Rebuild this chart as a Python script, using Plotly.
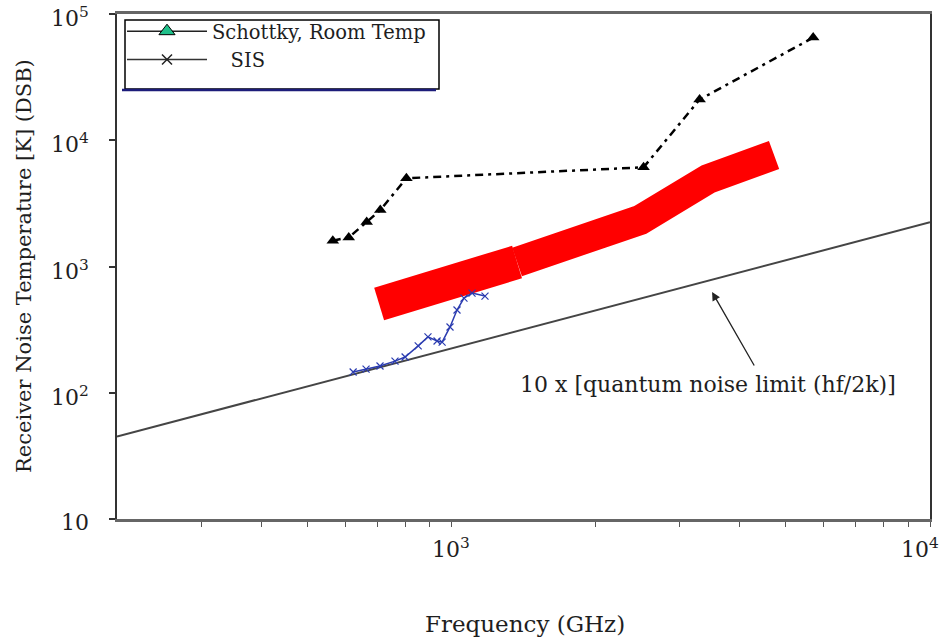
import math
import plotly.graph_objects as go

# Schottky mixers at room temperature
freq_schottky = [565, 610, 665, 710, 805, 2520, 3300, 5700]
temp_schottky = [1600, 1700, 2250, 2800, 5000, 6100, 21000, 65000]

# SIS mixers
freq_sis = [623, 663, 709, 762, 800, 852, 893, 933, 956, 993, 1027, 1062, 1104, 1175]
temp_sis = [146, 154, 163, 178, 192, 235, 277, 257, 252, 332, 452, 562, 616, 583]

# Hot-electron bolometer band (two segments)
freq_band_low = [706, 1371]
temp_band_low = [505, 1085]
freq_band_high = [1371, 2477, 3437, 4722]
temp_band_high = [1085, 2335, 4933, 7640]

# 10 x quantum noise limit
freq_qnl = [200, 10000]
temp_qnl = [45, 2240]

x_ticks = [1000, 10000]
x_ticktext = ["10<sup>3</sup>", "10<sup>4</sup>"]
x_minor = [300, 400, 500, 600, 700, 800, 900,
           2000, 3000, 4000, 5000, 6000, 7000, 8000, 9000]
y_ticks = [10, 100, 1000, 10000, 100000]
y_ticktext = ["10", "10<sup>2</sup>", "10<sup>3</sup>", "10<sup>4</sup>", "10<sup>5</sup>"]

FONT = "DejaVu Serif"
INK = "#1e1e1e"
RED = "#ff0000"
BLUE = "#2b3cb0"

PLOT_W, PLOT_H = 813, 505


def px_x(px):
    return (px - 117) / PLOT_W


def px_y(py):
    return 1 - (py - 14) / PLOT_H


fig = go.Figure()

fig.add_trace(go.Scatter(
    x=freq_qnl, y=temp_qnl, mode="lines",
    line=dict(color="#454545", width=2), showlegend=False, hoverinfo="skip"))

fig.add_trace(go.Scatter(
    x=freq_band_low, y=temp_band_low, mode="lines",
    line=dict(color=RED, width=34), showlegend=False))
fig.add_trace(go.Scatter(
    x=freq_band_high, y=temp_band_high, mode="lines",
    line=dict(color=RED, width=30), showlegend=False))

fig.add_trace(go.Scatter(
    x=freq_sis, y=temp_sis, mode="lines+markers",
    line=dict(color=BLUE, width=1.5),
    marker=dict(symbol="x-thin", size=7, line=dict(color=BLUE, width=1.2)),
    showlegend=False))

fig.add_trace(go.Scatter(
    x=freq_schottky, y=temp_schottky, mode="lines+markers",
    line=dict(color="black", width=2.5, dash="8px,5px,3px,5px"),
    marker=dict(symbol="triangle-up", size=11, color="black"),
    showlegend=False))

# legend entries
fig.add_trace(go.Scatter(
    x=[None], y=[None], mode="lines+markers", name="Schottky, Room Temp",
    line=dict(color="#222222", width=1.5),
    marker=dict(symbol="triangle-up", size=14, color="#1fc08a",
                line=dict(color="black", width=1))))
fig.add_trace(go.Scatter(
    x=[None], y=[None], mode="lines+markers",
    name="\u00a0\u00a0\u00a0SIS",
    line=dict(color="#333333", width=1.5),
    marker=dict(symbol="x-thin", size=10, line=dict(color="#222222", width=1.5))))

fig.add_annotation(
    x=math.log10(3504), y=math.log10(628), xref="x", yref="y",
    text="", showarrow=True, arrowhead=2, arrowsize=1.3, arrowwidth=1.3,
    arrowcolor="#222222", ax=43, ay=75)
fig.add_annotation(
    x=math.log10(3436), y=math.log10(117), xref="x", yref="y",
    text="10 x [quantum noise limit (hf/2k)]", showarrow=False,
    font=dict(family=FONT, size=22, color=INK))

fig.add_annotation(
    x=px_x(24), y=px_y(266), xref="paper", yref="paper", textangle=-90,
    xanchor="center", yanchor="middle",
    text="Receiver Noise Temperature [K] (DSB)", showarrow=False,
    font=dict(family=FONT, size=21, color=INK))
fig.add_annotation(
    x=px_x(525), y=px_y(624), xref="paper", yref="paper",
    xanchor="center", yanchor="middle",
    text="Frequency (GHz)", showarrow=False,
    font=dict(family=FONT, size=23, color=INK))

# tick labels, kept inside the page at the edges
tick_font = dict(family=FONT, size=22, color=INK)
for i, (val, label) in enumerate(zip(x_ticks, x_ticktext)):
    last = i == len(x_ticks) - 1
    fig.add_annotation(
        x=math.log10(val), y=px_y(548), xref="x", yref="paper",
        xanchor="right" if last else "center", yanchor="middle",
        xshift=11 if last else 0,
        text=label, showarrow=False, font=tick_font)
for val, label in zip(y_ticks, y_ticktext):
    fig.add_annotation(
        x=px_x(91), y=math.log10(val), xref="paper", yref="y",
        xanchor="right", yanchor="middle", yshift=-3,
        text=label, showarrow=False, font=tick_font)

# legend frame and the navy rule under it
fig.add_shape(type="rect", xref="paper", yref="paper",
              x0=px_x(125), x1=px_x(439), y0=px_y(89), y1=px_y(20),
              line=dict(color="black", width=1.5), fillcolor="white",
              layer="below")
fig.add_shape(type="line", xref="paper", yref="paper",
              x0=px_x(122), x1=px_x(436), y0=px_y(90), y1=px_y(90),
              line=dict(color="#1c1c7a", width=2.5))

fig.update_layout(
    width=941, height=638,
    margin=dict(l=117, r=11, t=14, b=119, autoexpand=False),
    paper_bgcolor="white", plot_bgcolor="white",
    font=dict(family=FONT, size=19, color=INK),
    legend=dict(x=px_x(122), y=px_y(12), xanchor="left", yanchor="top",
                bgcolor="rgba(0,0,0,0)", borderwidth=0,
                itemwidth=80, tracegroupgap=0,
                font=dict(family=FONT, size=19.5, color=INK)),
)

fig.update_xaxes(
    type="log", range=[math.log10(200), 4], automargin=False,
    tickvals=x_ticks, showticklabels=False,
    ticks="outside", ticklen=5, tickcolor="#555", tickwidth=1,
    minor=dict(tickvals=x_minor, ticks="outside", ticklen=5,
               tickcolor="#555", tickwidth=1),
    showgrid=False, zeroline=False,
    showline=True, linecolor="#666", linewidth=3, mirror=True)

fig.update_yaxes(
    type="log", range=[1, 5], automargin=False,
    tickvals=y_ticks, showticklabels=False,
    ticks="outside", ticklen=6, tickcolor="#333", tickwidth=1.5,
    showgrid=False, zeroline=False,
    showline=True, linecolor="#333", linewidth=2, mirror=True)

fig.write_html("out.html")
